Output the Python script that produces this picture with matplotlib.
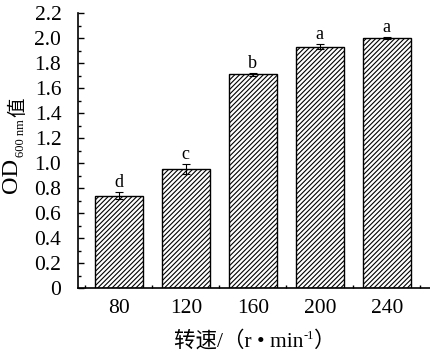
import matplotlib.pyplot as plt
import numpy as np
from matplotlib.ticker import MultipleLocator, FuncFormatter

speeds = ['80', '120', '160', '200', '240']
od_values = [0.74, 0.95, 1.71, 1.93, 2.00]
od_errors = [0.025, 0.04, 0.012, 0.02, 0.006]
letters = ['d', 'c', 'b', 'a', 'a']

FAMS = ['Liberation Serif', 'Noto Sans CJK SC', 'DejaVu Serif']
plt.rcParams['font.family'] = FAMS
plt.rcParams['hatch.linewidth'] = 0.8

W, H = 431, 357
fig = plt.figure(figsize=(W/100, H/100), dpi=100)
ax = fig.add_axes([78/W, 1-288/H, 353/W, 275/H])

x = np.arange(len(speeds))
ax.bar(x, od_values, width=0.71, color='white', edgecolor='black',
       hatch='///////', linewidth=1.0, zorder=2)
ax.errorbar(x, od_values, yerr=od_errors, fmt='none', ecolor='black',
            elinewidth=0.8, capsize=3, capthick=0.8, zorder=3)
for xi, v, e, lab in zip(x, od_values, od_errors, letters):
    ax.text(xi, v + e + 0.01, lab, ha='center', va='bottom', fontsize=13)

ax.set_xlim(-0.61, 4.66)
ax.set_ylim(0, 2.2)
ax.set_xticks(x)
ax.set_xticklabels(speeds)
ax.xaxis.set_minor_locator(MultipleLocator(1, offset=0.5))
ax.yaxis.set_major_locator(MultipleLocator(0.2))
ax.yaxis.set_minor_locator(MultipleLocator(0.1))
ax.yaxis.set_major_formatter(FuncFormatter(lambda v, p: '0' if abs(v) < 1e-9 else '%.1f' % v))
ax.tick_params(axis='both', which='both', direction='in', labelsize=15.5)
ax.tick_params(axis='both', which='major', length=4, width=1)
ax.tick_params(axis='both', which='minor', length=2.5, width=1)
ax.tick_params(axis='x', pad=8)
ax.tick_params(axis='y', pad=12)
ax.spines['top'].set_visible(False)
ax.spines['right'].set_visible(False)
ax.spines['left'].set_linewidth(1.2)
ax.spines['bottom'].set_linewidth(1.2)

renderer = fig.canvas.get_renderer()


def run_text(pieces, x0, y0, rotation=0):
    # pieces: (text, fontsize, offset in px perpendicular to baseline, gap px before)
    pos = 0.0
    for txt, size, off, gap in pieces:
        pos += gap
        if rotation == 90:
            px, py = x0 + off, y0 + pos
        else:
            px, py = x0 + pos, y0 + off
        t = fig.text(px / W, py / H, txt, fontsize=size, rotation=rotation,
                     rotation_mode='anchor', ha='left', va='baseline', family=FAMS)
        bb = t.get_window_extent(renderer)
        pos += bb.height if rotation == 90 else bb.width
    return pos


# y label: OD_600 nm 值
ylab = [('OD', 17.5, 0, 0), ('600 nm', 9, 7, 1), ('值', 14, 6, 2)]
run_text(ylab, 17, H - 193, rotation=90)

# x label: 转速/（r • min-1）
xlab = [('转速/（r • min', 15.5, 0, 0), ('-1', 9, 8, 0), ('）', 15.5, 0, 0)]
total = 0
for txt, size, off, gap in xlab:
    t = fig.text(0, 0, txt, fontsize=size, family=FAMS)
    total += t.get_window_extent(renderer).width
    t.remove()
run_text(xlab, (78 + 431) / 2 - total / 2, H - 347)

fig.savefig('out.png', dpi=100)
